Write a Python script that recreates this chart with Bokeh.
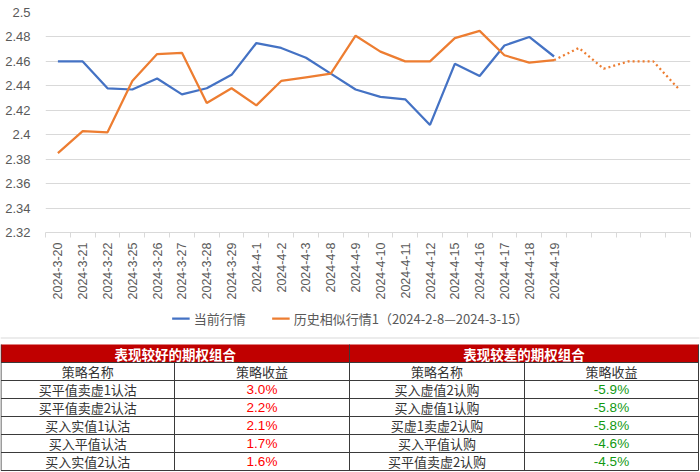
import math
from bokeh.plotting import figure
from bokeh.models import (Range1d, FixedTicker, CustomJSTickFormatter, Legend, LegendItem)
from bokeh.core.properties import value
from bokeh.embed import file_html
from bokeh.resources import INLINE

# ---------------- data ----------------
dates = ["2024-3-20", "2024-3-21", "2024-3-22", "2024-3-25", "2024-3-26", "2024-3-27",
         "2024-3-28", "2024-3-29", "2024-4-1", "2024-4-2", "2024-4-3", "2024-4-8",
         "2024-4-9", "2024-4-10", "2024-4-11", "2024-4-12", "2024-4-15", "2024-4-16",
         "2024-4-17", "2024-4-18", "2024-4-19"]
extra_slots = 5
current = [2.460, 2.460, 2.438, 2.437, 2.446, 2.433, 2.438, 2.449, 2.475, 2.471, 2.463,
           2.450, 2.437, 2.431, 2.429, 2.408, 2.458, 2.448, 2.473, 2.480, 2.464]
historical = [2.385, 2.403, 2.402, 2.444, 2.466, 2.467, 2.426, 2.438, 2.424, 2.444, 2.447,
              2.450, 2.481, 2.468, 2.460, 2.460, 2.479, 2.485, 2.465, 2.459, 2.461]
historical_future = [2.461, 2.471, 2.454, 2.460, 2.460, 2.438]
y_ticks = [2.32, 2.34, 2.36, 2.38, 2.40, 2.42, 2.44, 2.46, 2.48, 2.50]
series_names = ["当前行情", "历史相似行情1（2024-2-8—2024-3-15）"]

good_title = "表现较好的期权组合"
bad_title = "表现较差的期权组合"
col_headers = ["策略名称", "策略收益"]
good_names = ["买平值卖虚1认沽", "买平值卖虚2认沽", "买入实值1认沽", "买入平值认沽", "买入实值2认沽"]
good_returns = ["3.0%", "2.2%", "2.1%", "1.7%", "1.6%"]
bad_names = ["买入虚值2认购", "买入虚值1认购", "买虚1卖虚2认购", "买入平值认购", "买平值卖虚2认购"]
bad_returns = ["-5.9%", "-5.8%", "-5.8%", "-4.6%", "-4.5%"]

BLUE = "#4472C4"
ORANGE = "#ED7D31"
GRID = "#d9d9d9"
TXT = "#595959"
CJK = "Noto Sans CJK SC"

n_total = len(dates) + extra_slots
x_cur = [i + 0.5 for i in range(len(current))]
x_hist = [i + 0.5 for i in range(len(historical))]
x_fut = [len(historical) - 1 + i + 0.5 for i in range(len(historical_future))]

# ---------------- line chart ----------------
PH = 308
p = figure(width=700, height=PH, output_backend="svg", toolbar_location=None,
           x_range=Range1d(0, n_total), y_range=Range1d(y_ticks[0], y_ticks[-1]),
           min_border_left=45, min_border_right=10, min_border_top=12, min_border_bottom=PH - 232)
p.outline_line_color = None
p.background_fill_color = "white"
p.border_fill_color = "white"

p.line(x_cur, current, line_color=BLUE, line_width=2.25)
p.line(x_hist, historical, line_color=ORANGE, line_width=2.25)
p.line(x_fut, historical_future, line_color=ORANGE, line_width=2.25, line_dash="2 3")

p.xgrid.grid_line_color = None
p.ygrid.grid_line_color = GRID
p.ygrid.ticker = FixedTicker(ticks=y_ticks)

p.yaxis.ticker = FixedTicker(ticks=y_ticks)
p.yaxis.formatter = CustomJSTickFormatter(code="return String(parseFloat(tick.toFixed(2)));")
p.yaxis.axis_line_color = None
p.yaxis.major_tick_line_color = None
p.yaxis.minor_tick_line_color = None
p.yaxis.major_label_text_color = TXT
p.yaxis.major_label_text_font = "Liberation Sans"
p.yaxis.major_label_text_font_size = "13px"
p.yaxis.major_label_standoff = 9

p.xaxis.ticker = FixedTicker(ticks=x_hist, minor_ticks=list(range(n_total + 1)))
p.xaxis.formatter = CustomJSTickFormatter(args=dict(labels=dates),
                                          code="var i = Math.floor(tick); return (i < labels.length) ? labels[i] : '';")
p.xaxis.major_label_orientation = math.pi / 2
p.xaxis.axis_line_color = GRID
p.xaxis.major_tick_line_color = None
p.xaxis.minor_tick_line_color = GRID
p.xaxis.minor_tick_out = 5
p.xaxis.minor_tick_in = 0
p.xaxis.major_label_text_color = TXT
p.xaxis.major_label_text_font = "Liberation Sans"
p.xaxis.major_label_text_font_size = "12.5px"
p.xaxis.major_label_standoff = 4

# ---------------- legend + table ----------------
TH = 472 - PH
t = figure(width=700, height=TH, output_backend="svg", toolbar_location=None,
           x_range=Range1d(0, 700), y_range=Range1d(TH, 0),
           min_border=0)
t.axis.visible = False
t.grid.visible = False
t.outline_line_color = None
t.border_fill_color = "white"
t.background_fill_color = "white"

# legend samples: renderers styled like the chart's series, holding no visible data
lg_cur = t.line(x=[-100, -90], y=[-100, -100], line_color=BLUE, line_width=2.25)
lg_hist = t.line(x=[-100, -90], y=[-100, -100], line_color=ORANGE, line_width=2.25)
legend = Legend(items=[LegendItem(label=series_names[0], renderers=[lg_cur]),
                       LegendItem(label=series_names[1], renderers=[lg_hist])],
                orientation="horizontal", location="top_center")
legend.label_text_font = CJK
legend.label_text_font_size = "13px"
legend.label_text_color = TXT
legend.border_line_color = None
legend.background_fill_alpha = 0
legend.glyph_width = 18
legend.label_standoff = 4
legend.spacing = 26
legend.padding = 2
legend.margin = 0
t.add_layout(legend, "center")

chart_bottom = 338 - PH
t.segment(x0=[0], y0=[chart_bottom - 0.5], x1=[699], y1=[chart_bottom - 0.5], line_color=GRID, line_width=1)

top = chart_bottom + 6
row_h = 18
left_edges = [0.5, 349]
right_edges = [349, 698]
mids = [174, 524]
n_rows = len(good_names)

t.quad(left=left_edges, right=right_edges, top=[top, top], bottom=[top + row_h] * 2,
       fill_color="#C00000", line_color=None)

bottom = top + row_h * (n_rows + 2)
hy = [top + row_h * k for k in range(1, n_rows + 3)]
t.segment(x0=[0.5] * len(hy), y0=hy, x1=[698] * len(hy), y1=hy, line_color="#3a3a3a", line_width=1)
vx = [0.5, 349, 698]
t.segment(x0=vx, y0=[top] * 3, x1=vx, y1=[bottom] * 3, line_color="#3a3a3a", line_width=1)
t.segment(x0=mids, y0=[top + row_h] * 2, x1=mids, y1=[bottom] * 2, line_color="#3a3a3a", line_width=1)

t.text(x=[(left_edges[0] + right_edges[0]) / 2, (left_edges[1] + right_edges[1]) / 2],
       y=[top + row_h / 2] * 2, text=[good_title, bad_title],
       text_color="white", text_font=value(CJK), text_font_style="bold",
       text_font_size="13.5px", text_align="center", text_baseline="middle")

centers = [(left_edges[0] + mids[0]) / 2, (mids[0] + right_edges[0]) / 2,
           (left_edges[1] + mids[1]) / 2, (mids[1] + right_edges[1]) / 2]
t.text(x=centers, y=[top + row_h * 1.5] * 4, text=col_headers * 2,
       text_color="#333333", text_font=value(CJK), text_font_size="13px",
       text_align="center", text_baseline="middle")

row_y = [top + row_h * (k + 2.5) for k in range(n_rows)]
t.text(x=[centers[0]] * n_rows, y=row_y, text=good_names, text_color="#333333",
       text_font=value(CJK), text_font_size="13px", text_align="center", text_baseline="middle")
t.text(x=[centers[2]] * n_rows, y=row_y, text=bad_names, text_color="#333333",
       text_font=value(CJK), text_font_size="13px", text_align="center", text_baseline="middle")
t.text(x=[centers[1]] * n_rows, y=row_y, text=good_returns, text_color="#FF0000",
       text_font=value("Liberation Sans"), text_font_size="13.5px", text_align="center", text_baseline="middle")
t.text(x=[centers[3]] * n_rows, y=row_y, text=bad_returns, text_color="#119911",
       text_font=value("Liberation Sans"), text_font_size="13.5px", text_align="center", text_baseline="middle")

open("out.html", "w").write(file_html([p, t], INLINE))
